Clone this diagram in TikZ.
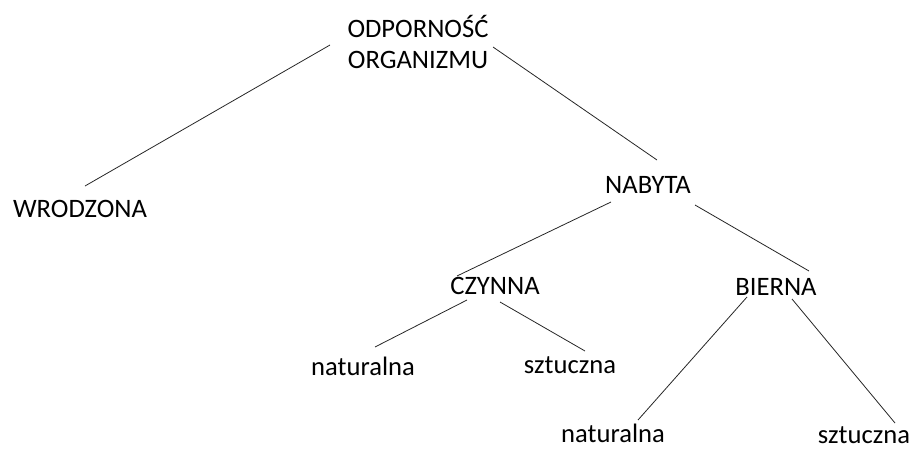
\documentclass[tikz,border=0pt]{standalone}
\usepackage{fontspec}
\setmainfont{Carlito}
\usetikzlibrary{calc}
\begin{document}
\begin{tikzpicture}[x=1pt,y=-1pt,
  lbl/.style={anchor=base,inner sep=0pt,font=\fontsize{26.6}{31}\selectfont,align=center},
  edge/.style={draw=black!85,line width=0.8pt}]
\useasboundingbox (0,0) rectangle (913,450);
\node[lbl] (root) at (418,68) {ODPORNOŚĆ\\ORGANIZMU};
\node[lbl] (wro) at (80,217) {WRODZONA};
\node[lbl] (nab) at (648,193) {NABYTA};
\node[lbl] (czy) at (495,294) {CZYNNA};
\node[lbl] (bie) at (776,295) {BIERNA};
\node[lbl] (nat1) at (363,375) {naturalna};
\node[lbl] (szt1) at (570,373) {sztuczna};
\node[lbl] (nat2) at (613,442) {naturalna};
\node[lbl] (szt2) at (864,443) {sztuczna};
\draw[edge] ($(root.base)+(-88,-23)$) -- ($(wro.base)+(5,-31)$);
\draw[edge] ($(root.base)+(75,-21)$) -- ($(nab.base)+(9,-33)$);
\draw[edge] ($(nab.base)+(-37,9)$) -- ($(czy.base)+(-38,-18)$);
\draw[edge] ($(nab.base)+(47,12)$) -- ($(bie.base)+(33,-24)$);
\draw[edge] ($(czy.base)+(-28,6)$) -- ($(nat1.base)+(12,-28)$);
\draw[edge] ($(czy.base)+(5,8)$) -- ($(szt1.base)+(15,-22)$);
\draw[edge] ($(bie.base)+(-29,2)$) -- ($(nat2.base)+(25,-22)$);
\draw[edge] ($(bie.base)+(16,4)$) -- ($(szt2.base)+(31,-20)$);
\end{tikzpicture}
\end{document}
